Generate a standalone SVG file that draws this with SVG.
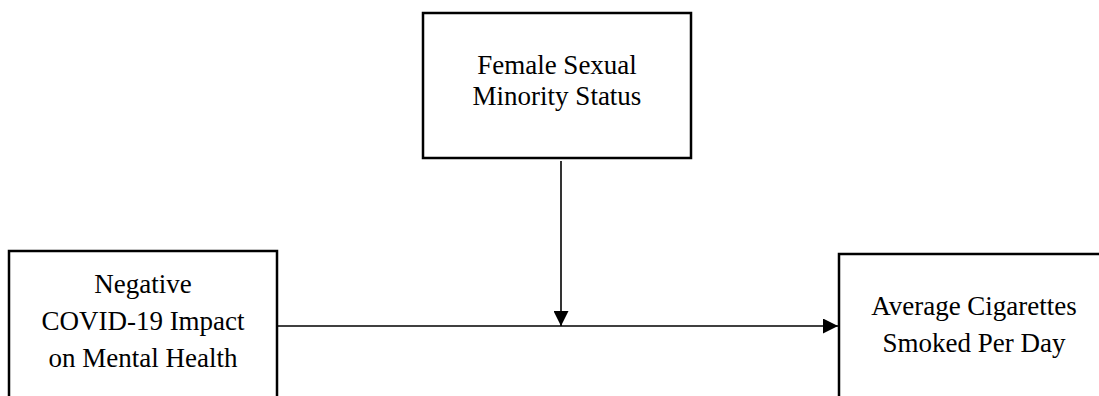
<svg xmlns="http://www.w3.org/2000/svg" width="1099" height="396" viewBox="0 0 1099 396">
  <style>
    .box { fill: #ffffff; stroke: #000000; stroke-width: 2.5; }
    .lbl { font-family: "Liberation Serif", "Times New Roman", serif; font-size: 27px; fill: #000000; text-anchor: middle; }
    .conn { stroke: #000000; stroke-width: 1.6; fill: none; }
  </style>
  <defs>
    <marker id="arrow" viewBox="0 0 15 15" refX="15" refY="7.5" markerWidth="15" markerHeight="15" markerUnits="userSpaceOnUse" orient="auto">
      <path d="M0,0 L15,7.5 L0,15 Z" fill="#000000"/>
    </marker>
  </defs>
  <rect width="1099" height="396" fill="#ffffff"/>
  <g id="connectors">
    <line class="conn" x1="277" y1="326" x2="838" y2="326" marker-end="url(#arrow)"/>
    <line class="conn" x1="561" y1="161" x2="561" y2="326" marker-end="url(#arrow)"/>
  </g>
  <g id="node-moderator">
    <rect class="box" x="423" y="13" width="268" height="145"/>
    <text class="lbl" x="557" y="74">Female Sexual</text>
    <text class="lbl" x="557" y="105">Minority Status</text>
  </g>
  <g id="node-predictor">
    <rect class="box" x="9" y="251" width="268" height="160"/>
    <text class="lbl" x="143" y="293">Negative</text>
    <text class="lbl" x="143" y="330">COVID-19 Impact</text>
    <text class="lbl" x="143" y="367">on Mental Health</text>
  </g>
  <g id="node-outcome">
    <rect class="box" x="839" y="254" width="270" height="160"/>
    <text class="lbl" x="974" y="315">Average Cigarettes</text>
    <text class="lbl" x="974" y="352">Smoked Per Day</text>
  </g>
</svg>
